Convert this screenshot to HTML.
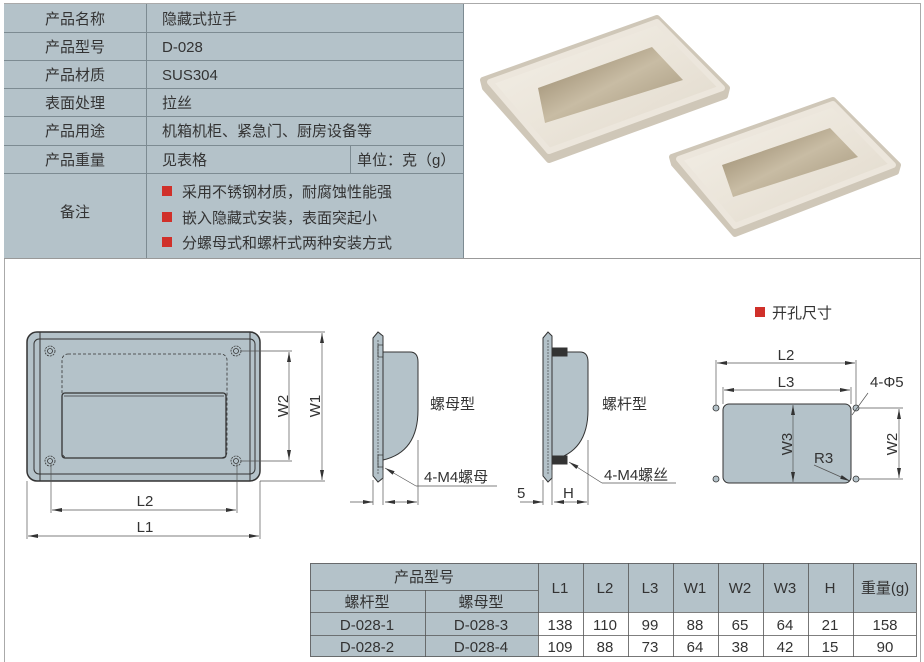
<!DOCTYPE html>
<html><head><meta charset="utf-8"><style>
html,body{margin:0;padding:0;background:#fff;}
svg{display:block;}
text{font-family:"Liberation Sans","Noto Sans CJK SC",sans-serif;fill:#333;}
</style></head><body>
<svg width="924" height="662" viewBox="0 0 924 662" xmlns="http://www.w3.org/2000/svg">
<defs>
<linearGradient id="met" x1="0" y1="0" x2="1" y2="1"><stop offset="0" stop-color="#f4f0e8"/><stop offset="0.5" stop-color="#ebe5da"/><stop offset="1" stop-color="#e0d8ca"/></linearGradient>
<linearGradient id="cav" x1="0" y1="0" x2="1" y2="1"><stop offset="0" stop-color="#8e7d60"/><stop offset="0.5" stop-color="#c8bca4"/><stop offset="1" stop-color="#a29479"/></linearGradient>
<marker id="ar" viewBox="0 0 10 6" refX="10" refY="3" markerWidth="10" markerHeight="6" orient="auto-start-reverse" markerUnits="userSpaceOnUse"><path d="M0,1 L10,3 L0,5 Z" fill="#333"/></marker>
</defs>
<rect x="4.5" y="3.5" width="916" height="662" fill="none" stroke="#aaa"/>
<line x1="4" y1="258.5" x2="921" y2="258.5" stroke="#999"/>
<rect x="4" y="4" width="459" height="254" fill="#b4c2c9"/>
<g stroke="#7d8b92" stroke-width="1">
<line x1="4" y1="32.5" x2="463" y2="32.5"/><line x1="4" y1="60.5" x2="463" y2="60.5"/><line x1="4" y1="88.5" x2="463" y2="88.5"/><line x1="4" y1="116.5" x2="463" y2="116.5"/><line x1="4" y1="145.5" x2="463" y2="145.5"/><line x1="4" y1="173.5" x2="463" y2="173.5"/>
<line x1="146.5" y1="4" x2="146.5" y2="258"/><line x1="350.5" y1="145" x2="350.5" y2="173"/><line x1="463.5" y1="4" x2="463.5" y2="258"/>
</g>
<g font-size="15">
<text x="75" y="24" text-anchor="middle">产品名称</text><text x="162" y="24">隐藏式拉手</text>
<text x="75" y="52" text-anchor="middle">产品型号</text><text x="162" y="52">D-028</text>
<text x="75" y="80" text-anchor="middle">产品材质</text><text x="162" y="80">SUS304</text>
<text x="75" y="108" text-anchor="middle">表面处理</text><text x="162" y="108">拉丝</text>
<text x="75" y="136" text-anchor="middle">产品用途</text><text x="162" y="136">机箱机柜、紧急门、厨房设备等</text>
<text x="75" y="165" text-anchor="middle">产品重量</text><text x="162" y="165">见表格</text><text x="357" y="165">单位：克（g）</text>
<text x="75" y="217" text-anchor="middle">备注</text>
<rect x="162" y="186" width="10" height="10" fill="#d0302a"/><text x="182" y="197">采用不锈钢材质，耐腐蚀性能强</text>
<rect x="162" y="212" width="10" height="10" fill="#d0302a"/><text x="182" y="223">嵌入隐藏式安装，表面突起小</text>
<rect x="162" y="237" width="10" height="10" fill="#d0302a"/><text x="182" y="248">分螺母式和螺杆式两种安装方式</text>
</g>
<!-- photos -->
<polygon points="483,80 657,18 727,88 725,96 549,160 485,88" fill="#cfc7b8" stroke="#cfc7b8" stroke-width="6" stroke-linejoin="round"/>
<polygon points="490,82 657,22 722,88 549,151" fill="url(#met)" stroke="#ece6dc" stroke-width="6" stroke-linejoin="round"/>
<polygon points="538,88 652,47 683,80 545,123" fill="url(#cav)"/>
<polygon points="672,157 833,100 898,165 896,172 735,234 674,164" fill="#cfc7b8" stroke="#cfc7b8" stroke-width="6" stroke-linejoin="round"/>
<polygon points="679,159 833,104 893,165 735,226" fill="url(#met)" stroke="#ece6dc" stroke-width="6" stroke-linejoin="round"/>
<polygon points="722,165 830,128 858,157 733,197" fill="url(#cav)"/>
<!-- front view -->
<g stroke="#333" fill="none">
<rect x="27" y="332" width="233" height="149" rx="10" fill="#b4c2c9" stroke-width="1.5"/>
<rect x="34" y="339" width="221" height="135" rx="5"/>
<line x1="40" y1="332" x2="40" y2="481"/><line x1="250" y1="332" x2="250" y2="481"/>
<rect x="62" y="354" width="165" height="104" rx="6" stroke-dasharray="3,2" stroke-width="0.8"/>
<rect x="62" y="393" width="164" height="65" rx="3" stroke-width="1.3"/>
<line x1="64" y1="396" x2="224" y2="396" stroke-width="0.8"/>
<g stroke-width="0.8"><circle cx="50" cy="351" r="5" stroke-dasharray="2,1"/><circle cx="50" cy="351" r="2.5"/>
<circle cx="236" cy="351" r="5" stroke-dasharray="2,1"/><circle cx="236" cy="351" r="2.5"/>
<circle cx="50" cy="461" r="5" stroke-dasharray="2,1"/><circle cx="50" cy="461" r="2.5"/>
<circle cx="236" cy="461" r="5" stroke-dasharray="2,1"/><circle cx="236" cy="461" r="2.5"/></g>
</g>
<g stroke="#555" stroke-width="0.7">
<line x1="241" y1="351" x2="292" y2="351"/><line x1="241" y1="461" x2="292" y2="461"/>
<line x1="260" y1="332" x2="325" y2="332"/><line x1="260" y1="481" x2="325" y2="481"/>
<line x1="51" y1="463" x2="51" y2="513"/><line x1="237" y1="463" x2="237" y2="513"/>
<line x1="27" y1="481" x2="27" y2="539"/><line x1="260" y1="481" x2="260" y2="539"/>
<line x1="289" y1="352" x2="289" y2="460" marker-start="url(#ar)" marker-end="url(#ar)"/>
<line x1="322" y1="333" x2="322" y2="480" marker-start="url(#ar)" marker-end="url(#ar)"/>
<line x1="52" y1="510" x2="236" y2="510" marker-start="url(#ar)" marker-end="url(#ar)"/>
<line x1="28" y1="536" x2="259" y2="536" marker-start="url(#ar)" marker-end="url(#ar)"/>
</g>
<g font-size="15">
<text transform="translate(288,406) rotate(-90)" text-anchor="middle">W2</text>
<text transform="translate(320,406) rotate(-90)" text-anchor="middle">W1</text>
<text x="145" y="506" text-anchor="middle">L2</text>
<text x="145" y="532" text-anchor="middle">L1</text>
</g>
<g stroke="#333" stroke-width="1">
<path d="M383,352 L410,352 Q418,352 418,362 L418,410 Q418,452 383,460 Z" fill="#b4c2c9"/>
<polygon points="373,338 378,332 383,336 383,478 378,482 373,476" fill="#b4c2c9"/>
<line x1="378" y1="340" x2="378" y2="474" stroke-dasharray="2,1" stroke-width="0.6"/>
<rect x="378" y="345" width="5" height="12" fill="none" stroke-width="0.7"/><rect x="378" y="455" width="5" height="12" fill="none" stroke-width="0.7"/>
</g>
<g stroke="#555" stroke-width="0.7">
<line x1="373" y1="480" x2="373" y2="505"/><line x1="383" y1="470" x2="383" y2="505"/><line x1="418" y1="440" x2="418" y2="505"/>
<line x1="350" y1="502" x2="373" y2="502" marker-end="url(#ar)"/>
<line x1="385" y1="502" x2="417" y2="502" marker-start="url(#ar)" marker-end="url(#ar)"/>
<line x1="497" y1="486" x2="416" y2="486"/><line x1="416" y1="486" x2="385" y2="468" marker-end="url(#ar)"/>
</g>
<text x="430" y="409" font-size="15">螺母型</text>
<text x="424" y="482" font-size="15">4-M4螺母</text>
<g stroke="#333" stroke-width="1">
<path d="M552,352 L580,352 Q588,352 588,362 L588,410 Q588,452 552,460 Z" fill="#b4c2c9"/>
<polygon points="543,338 548,332 552,336 552,478 548,482 543,476" fill="#b4c2c9"/>
<line x1="548" y1="340" x2="548" y2="474" stroke-dasharray="2,1" stroke-width="0.6"/>
<rect x="552" y="348" width="15" height="8" fill="#333"/><rect x="552" y="456" width="15" height="8" fill="#333"/>
</g>
<g stroke="#555" stroke-width="0.7">
<line x1="543" y1="480" x2="543" y2="505"/><line x1="552" y1="470" x2="552" y2="505"/><line x1="588" y1="440" x2="588" y2="505"/>
<line x1="520" y1="502" x2="543" y2="502" marker-end="url(#ar)"/>
<line x1="554" y1="502" x2="587" y2="502" marker-start="url(#ar)" marker-end="url(#ar)"/>
<line x1="676" y1="483" x2="602" y2="483"/><line x1="602" y1="483" x2="569" y2="462" marker-end="url(#ar)"/>
</g>
<text x="602" y="409" font-size="15">螺杆型</text>
<text x="604" y="480" font-size="15">4-M4螺丝</text>
<text x="517" y="498" font-size="15">5</text>
<text x="563" y="498" font-size="15">H</text>
<rect x="755" y="307" width="10" height="10" fill="#d0302a"/>
<text x="772" y="318" font-size="15">开孔尺寸</text>
<rect x="723" y="404" width="128" height="79" rx="6" fill="#b4c2c9" stroke="#333"/>
<g fill="#b4c2c9" stroke="#333" stroke-width="0.8">
<circle cx="716" cy="408" r="3"/><circle cx="856" cy="408" r="3"/><circle cx="716" cy="479" r="3"/><circle cx="856" cy="479" r="3"/></g>
<g stroke="#555" stroke-width="0.7">
<line x1="716" y1="360" x2="716" y2="405"/><line x1="856" y1="360" x2="856" y2="405"/>
<line x1="723" y1="387" x2="723" y2="404"/><line x1="851" y1="387" x2="851" y2="404"/>
<line x1="717" y1="363" x2="855" y2="363" marker-start="url(#ar)" marker-end="url(#ar)"/>
<line x1="724" y1="390" x2="850" y2="390" marker-start="url(#ar)" marker-end="url(#ar)"/>
<line x1="793" y1="405" x2="793" y2="482" marker-start="url(#ar)" marker-end="url(#ar)"/>
<line x1="859" y1="408" x2="903" y2="408"/><line x1="859" y1="479" x2="903" y2="479"/>
<line x1="899" y1="409" x2="899" y2="478" marker-start="url(#ar)" marker-end="url(#ar)"/>
<line x1="868" y1="393" x2="852" y2="415"/>
<line x1="814" y1="465" x2="850" y2="481" marker-end="url(#ar)"/>
</g>
<g font-size="15">
<text x="786" y="360" text-anchor="middle">L2</text>
<text x="786" y="387" text-anchor="middle">L3</text>
<text transform="translate(792,444) rotate(-90)" text-anchor="middle">W3</text>
<text transform="translate(897,444) rotate(-90)" text-anchor="middle">W2</text>
<text x="870" y="387">4-Φ5</text>
<text x="814" y="463">R3</text>
</g>
<rect x="310" y="563" width="228" height="94" fill="#b4c2c9"/>
<rect x="538" y="563" width="378" height="49" fill="#b4c2c9"/>
<g stroke="#555" stroke-width="0.8" fill="none">
<rect x="310.5" y="563.5" width="606" height="93"/>
<line x1="310" y1="590.5" x2="538" y2="590.5"/>
<line x1="310" y1="612.5" x2="916" y2="612.5"/>
<line x1="310" y1="635.5" x2="916" y2="635.5"/>
<line x1="425.5" y1="590" x2="425.5" y2="657"/>
<line x1="538.5" y1="563" x2="538.5" y2="657"/><line x1="583.5" y1="563" x2="583.5" y2="657"/>
<line x1="628.5" y1="563" x2="628.5" y2="657"/><line x1="673.5" y1="563" x2="673.5" y2="657"/>
<line x1="718.5" y1="563" x2="718.5" y2="657"/><line x1="763.5" y1="563" x2="763.5" y2="657"/>
<line x1="808.5" y1="563" x2="808.5" y2="657"/><line x1="853.5" y1="563" x2="853.5" y2="657"/>
</g>
<g font-size="15" text-anchor="middle">
<text x="424" y="582">产品型号</text>
<text x="367" y="607">螺杆型</text><text x="481" y="607">螺母型</text>
<text x="560" y="593">L1</text><text x="605" y="593">L2</text><text x="650" y="593">L3</text><text x="695" y="593">W1</text><text x="740" y="593">W2</text><text x="785" y="593">W3</text><text x="830" y="593">H</text><text x="885" y="593">重量(g)</text>
<text x="367" y="630">D-028-1</text><text x="481" y="630">D-028-3</text>
<text x="560" y="630">138</text><text x="605" y="630">110</text><text x="650" y="630">99</text><text x="695" y="630">88</text><text x="740" y="630">65</text><text x="785" y="630">64</text><text x="830" y="630">21</text><text x="885" y="630">158</text>
<text x="367" y="652">D-028-2</text><text x="481" y="652">D-028-4</text>
<text x="560" y="652">109</text><text x="605" y="652">88</text><text x="650" y="652">73</text><text x="695" y="652">64</text><text x="740" y="652">38</text><text x="785" y="652">42</text><text x="830" y="652">15</text><text x="885" y="652">90</text>
</g>
</svg>
</body></html>
